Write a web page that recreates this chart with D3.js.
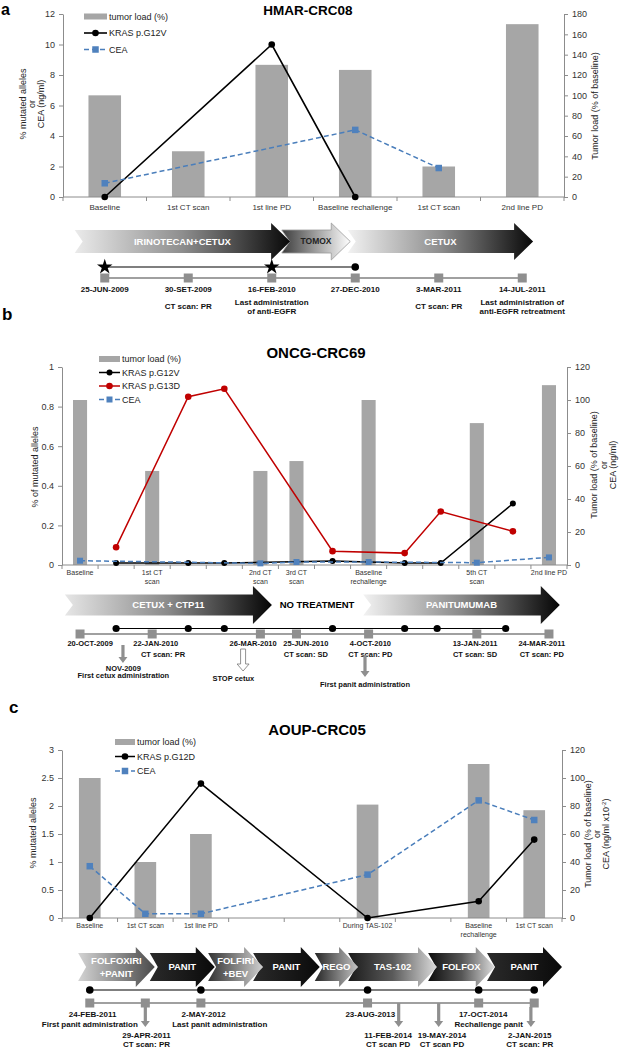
<!DOCTYPE html>
<html><head><meta charset="utf-8">
<script src="https://cdn.jsdelivr.net/npm/d3@7/dist/d3.min.js"></script>
<style>
html,body{margin:0;padding:0;background:#fff;}
svg{display:block;font-family:Arial,"Liberation Sans",Helvetica,sans-serif;}
</style></head><body>
<svg id="fig" width="620" height="1050"></svg>
<script>
// ================= DATA =================
// ---- Panel a ----
const aTitle = "HMAR-CRC08";
const aCategories = ["Baseline","1st CT scan","1st line PD","Baseline rechallenge","1st CT scan","2nd line PD"];
const aTumorLoad = [100, 45, 130, 125, 30, 170];
const aKrasG12V = [0, null, 10, 0, null, null];
const aCEA = [0.9, null, null, 4.4, 1.9, null];
const aLeftTicks = [0, 2, 4, 6, 8, 10, 12];
const aRightTicks = [0, 20, 40, 60, 80, 100, 120, 140, 160, 180];
const aTherapies = [
  {name:["IRINOTECAN+CETUX"], from:-0.36, to:2.22},
  {name:["TOMOX"], from:2.12, to:2.94},
  {name:["CETUX"], from:2.91, to:5.13}
];
const aEvents = [
  {at:0, date:"25-JUN-2009", note:[]},
  {at:1, date:"30-SET-2009", note:["CT scan: PR"]},
  {at:2, date:"16-FEB-2010", note:["Last administration","of anti-EGFR"]},
  {at:3, date:"27-DEC-2010", note:[]},
  {at:4, date:"3-MAR-2011", note:["CT scan: PR"]},
  {at:5, date:"14-JUL-2011", note:["Last administration of","anti-EGFR retreatment"]}
];
const aSamples = [{at:0, mark:"star"}, {at:2, mark:"star"}, {at:3, mark:"dot"}];

// ---- Panel b ----
const bTitle = "ONCG-CRC69";
const bCategories = ["Baseline","","1st CT\nscan","","","2nd CT\nscan","3rd CT\nscan","","Baseline\nrechallenge","","","5th CT\nscan","","2nd line PD"];
const bTumorLoad = [100, null, 57, null, null, 57, 63, null, 100, null, null, 86, null, 109];
const bKrasG12V = [null, 0.01, null, 0.01, 0.01, null, null, 0.02, null, 0.01, 0.01, null, 0.31, null];
const bKrasG13D = [null, 0.09, null, 0.85, 0.89, null, null, 0.07, null, 0.06, 0.27, null, 0.17, null];
const bCEA = [2.6, null, null, null, null, 1.0, 1.8, null, 1.8, null, null, 1.4, null, 4.6];
const bLeftTicks = [0, 0.2, 0.4, 0.6, 0.8, 1];
const bRightTicks = [0, 20, 40, 60, 80, 100, 120];
const bTherapies = [
  {name:["CETUX + CTP11"], from:-0.42, to:5.32},
  {name:["PANITUMUMAB"], from:7.85, to:13.3}
];
const bPause = {name:"NO TREATMENT", at:6.57};
const bEvents = [
  {at:0, labelAt:0.28, date:"20-OCT-2009", note:""},
  {at:2, labelAt:2.1, date:"22-JAN-2010", note:"CT scan: PR", noteAt:2.3},
  {at:5, labelAt:4.8, date:"26-MAR-2010", note:""},
  {at:6, labelAt:6.26, date:"25-JUN-2010", note:"CT scan: SD"},
  {at:8, labelAt:8.05, date:"4-OCT-2010", note:"CT scan: PD"},
  {at:11, labelAt:10.95, date:"13-JAN-2011", note:"CT scan: SD"},
  {at:13, labelAt:12.8, date:"24-MAR-2011", note:"CT scan: PD"}
];
const bSampleDots = [1, 3, 4, 7, 9, 9.9, 11.8];
const bCallouts = [
  {at:1.19, textAt:1.2, lines:["NOV-2009","First cetux administration"], hollow:false},
  {at:4.52, textAt:4.25, lines:["STOP cetux"], hollow:true},
  {at:7.9, textAt:7.9, lines:["First panit administration"], hollow:false}
];

// ---- Panel c ----
const cTitle = "AOUP-CRC05";
const cCategories = ["Baseline","1st CT scan","1st line PD","","","During TAS-102","","Baseline\nrechallenge","1st CT scan"];
const cTumorLoad = [100, 40, 60, null, null, 81, null, 110, 77];
const cKrasG12D = [0, null, 2.4, null, null, 0, null, 0.3, 1.4];
const cCEA = [37, 3, 3, null, null, 31, null, 84, 70];
const cLeftTicks = [0, 0.5, 1, 1.5, 2, 2.5, 3];
const cRightTicks = [0, 20, 40, 60, 80, 100, 120];
const cTherapies = [
  {name:["FOLFOXIRI","+PANIT"], from:-0.21, to:1.17},
  {name:["PANIT"], from:1.08, to:2.25},
  {name:["FOLFIRI","+BEV"], from:2.13, to:3.12},
  {name:["PANIT"], from:2.94, to:4.14},
  {name:["REGO"], from:4.05, to:4.83},
  {name:["TAS-102"], from:4.65, to:6.25},
  {name:["FOLFOX"], from:6.09, to:7.29},
  {name:["PANIT"], from:7.15, to:8.5}
];
const cSampleDots = [0, 2, 5, 7, 8];
const cScans = [0, 1, 2, 5, 7, 8];
const cDates = [
  {at:0.05, text:"24-FEB-2011"}, {at:2.05, text:"2-MAY-2012"},
  {at:5.05, text:"23-AUG-2013"}, {at:7.08, text:"17-OCT-2014"}
];
const cNotes = [
  {at:0.0, text:"First panit administration"}, {at:2.34, text:"Last panit administration"},
  {at:7.18, text:"Rechallenge panit"}
];
const cCallouts = [
  {at:1, textAt:1.02, fromScan:true, lines:["29-APR-2011","CT scan: PR"]},
  {at:5.56, textAt:5.37, fromScan:false, lines:["11-FEB-2014","CT scan PD"]},
  {at:6.28, textAt:6.34, fromScan:false, lines:["19-MAY-2014","CT scan PD"]},
  {at:7.94, textAt:7.92, fromScan:true, lines:["2-JAN-2015","CT scan: PR"]}
];

// ================= DRAWING =================
const svg = d3.select("#fig");
const defs = svg.append("defs");
const AXIS = "#8c8c8c", INK = "#222", BAR = "#a6a6a6", BLUE = "#4f81bd", BLUEL = "#4a7ebb", RED = "#c00000", TLGREY = "#8f8f8f";

let gid = 0;
function gradient(stops){
  const id = "g" + (gid++);
  const lg = defs.append("linearGradient").attr("id", id).attr("x1", 0).attr("x2", 1).attr("y1", 0).attr("y2", 0);
  stops.forEach(([o, c]) => lg.append("stop").attr("offset", o).attr("stop-color", c));
  return `url(#${id})`;
}

function txt(g, x, y, s, size, opts = {}){
  return g.append("text").attr("x", x).attr("y", y).attr("dy", "0.35em")
    .attr("text-anchor", opts.anchor || "middle").attr("font-size", size)
    .attr("font-weight", opts.weight || "normal").attr("fill", opts.fill || INK).text(s);
}
function vtxt(g, x, y, s, size){
  return g.append("text").attr("transform", `translate(${x},${y}) rotate(-90)`).attr("dy", "0.35em")
    .attr("text-anchor", "middle").attr("font-size", size).attr("fill", INK).text(s);
}

function chart(c){
  const n = c.cats.length;
  const x = d3.scaleBand().domain(d3.range(n)).range([c.left, c.right]);
  const cx = i => x(i) + x.bandwidth() / 2;
  const yl = d3.scaleLinear().domain([0, c.leftTicks[c.leftTicks.length - 1]]).range([c.bottom, c.top]);
  const yr = d3.scaleLinear().domain([0, c.rightTicks[c.rightTicks.length - 1]]).range([c.bottom, c.top]);
  const g = svg.append("g");
  const bw = x.bandwidth() * 0.39;
  g.append("g").selectAll("rect").data(c.bars.map((v, i) => ({v, i})).filter(d => d.v != null)).join("rect")
    .attr("x", d => cx(d.i) - bw / 2).attr("y", d => yr(d.v)).attr("width", bw)
    .attr("height", d => yr(0) - yr(d.v)).attr("fill", BAR);

  const la = g.append("g").attr("transform", `translate(${c.left},0)`)
    .call(d3.axisLeft(yl).tickValues(c.leftTicks).tickSize(4).tickSizeOuter(0).tickPadding(4).tickFormat(d3.format("~g")));
  const ra = g.append("g").attr("transform", `translate(${c.right},0)`)
    .call(d3.axisRight(yr).tickValues(c.rightTicks).tickSize(4).tickSizeOuter(0).tickPadding(4).tickFormat(d3.format("~g")));
  [la, ra].forEach(a => {
    a.attr("font-family", null);
    a.select(".domain").attr("stroke", AXIS);
    a.selectAll(".tick line").attr("stroke", AXIS);
    a.selectAll(".tick text").attr("font-size", c.tickSize).attr("fill", "#333");
  });
  g.append("line").attr("x1", c.left).attr("x2", c.right).attr("y1", c.bottom).attr("y2", c.bottom).attr("stroke", AXIS);
  g.append("g").selectAll("line").data(d3.range(n + 1)).join("line")
    .attr("x1", i => c.left + i * x.step()).attr("x2", i => c.left + i * x.step())
    .attr("y1", c.bottom).attr("y2", c.bottom + 4).attr("stroke", AXIS);
  c.cats.forEach((lab, i) => {
    if (!lab) return;
    const t = g.append("text").attr("text-anchor", "middle").attr("font-size", c.catSize).attr("fill", "#333");
    lab.split("\n").forEach((s, k) => t.append("tspan").attr("x", cx(i))
      .attr("y", c.labelY + k * c.catSize * 1.15).attr("dy", "0.35em").text(s));
  });

  c.series.forEach(s => {
    const y = s.axis === "right" ? yr : yl;
    const pts = s.values.map((v, i) => ({v, i})).filter(d => d.v != null);
    g.append("path").attr("d", d3.line().x(d => cx(d.i)).y(d => y(d.v))(pts))
      .attr("fill", "none").attr("stroke", s.color).attr("stroke-width", s.width)
      .attr("stroke-dasharray", s.dash || null);
    if (s.marker === "circle") {
      g.append("g").selectAll("circle").data(pts).join("circle")
        .attr("cx", d => cx(d.i)).attr("cy", d => y(d.v)).attr("r", s.size).attr("fill", s.color);
    } else {
      g.append("g").selectAll("rect").data(pts).join("rect")
        .attr("x", d => cx(d.i) - s.size / 2).attr("y", d => y(d.v) - s.size / 2)
        .attr("width", s.size).attr("height", s.size).attr("fill", BLUE);
    }
  });

  // legend
  const L = c.legend;
  L.items.forEach((it, k) => {
    const y = L.y + k * L.gap;
    if (it.bar) {
      g.append("rect").attr("x", L.x0).attr("y", y - 3).attr("width", L.x1 - L.x0).attr("height", 6).attr("fill", BAR);
    } else {
      g.append("line").attr("x1", L.x0).attr("x2", L.x1).attr("y1", y).attr("y2", y)
        .attr("stroke", it.s.color).attr("stroke-width", it.s.width).attr("stroke-dasharray", it.s.dash || null);
      const mx = (L.x0 + L.x1) / 2;
      if (it.s.marker === "circle") g.append("circle").attr("cx", mx).attr("cy", y).attr("r", it.s.size).attr("fill", it.s.color);
      else g.append("rect").attr("x", mx - it.s.size / 2).attr("y", y - it.s.size / 2).attr("width", it.s.size).attr("height", it.s.size).attr("fill", BLUE);
    }
    txt(g, L.x1 + 2, y, it.label, 9, {anchor: "start"});
  });

  // title and labels
  txt(g, c.titleX, c.titleY, c.title, c.titleSize, {weight: "bold", fill: "#000"});
  c.leftLabel.forEach((s, k) => vtxt(g, c.leftLabelX[k], c.leftLabelY, s, 9));
  const xi = d3.scaleLinear().domain([0, n - 1]).range([cx(0), cx(n - 1)]);
  return {g, xi, yr};
}

function chevron(g, x0, x1, ym, bodyH, headH, headL, notch, fill, stroke){
  const pts = [[x0, ym - bodyH / 2], [x1 - headL, ym - bodyH / 2], [x1 - headL, ym - headH / 2], [x1, ym],
    [x1 - headL, ym + headH / 2], [x1 - headL, ym + bodyH / 2], [x0, ym + bodyH / 2], [x0 + notch, ym]];
  g.append("path").attr("d", d3.line()(pts) + "Z").attr("fill", fill)
    .attr("stroke", stroke || "none").attr("stroke-width", stroke ? 0.8 : 0);
}

function therapies(g, xi, list, styles, geo){
  for (let k = list.length - 1; k >= 0; k--) {
    const t = list[k], st = styles[k];
    const x0 = xi(t.from), x1 = xi(t.to);
    chevron(g, x0, x1, geo.ym, geo.bodyH, geo.headH, geo.headL, geo.notch, gradient(st.stops), st.stroke);
    const mx = (x0 + x1) / 2 + (st.dx || 0);
    t.name.forEach((s, j) => txt(g, mx, geo.ym + (j - (t.name.length - 1) / 2) * geo.lh, s, st.size || geo.size,
      {weight: "bold", fill: st.text || "#fff"}));
  }
}

function squares(g, xs, y){
  g.append("g").selectAll("rect").data(xs).join("rect")
    .attr("x", d => d - 4.5).attr("y", y - 4.5).attr("width", 9).attr("height", 9).attr("fill", TLGREY);
}
function dots(g, xs, y, r){
  g.append("g").selectAll("circle").data(xs).join("circle").attr("cx", d => d).attr("cy", y).attr("r", r).attr("fill", "#000");
}
function downArrow(g, x, y0, y1, hollow){
  const sw = hollow ? 2.5 : 1.6, hw = hollow ? 6 : 4.5, hl = hollow ? 7 : 6;
  const pts = [[x - sw, y0], [x + sw, y0], [x + sw, y1 - hl], [x + hw, y1 - hl], [x, y1], [x - hw, y1 - hl], [x - sw, y1 - hl]];
  g.append("path").attr("d", d3.line()(pts) + "Z").attr("fill", hollow ? "#fff" : TLGREY)
    .attr("stroke", hollow ? "#777" : "none").attr("stroke-width", 0.8);
}

// ---------- Panel a ----------
svg.append("text").attr("x", 1).attr("y", 15).attr("font-size", 16).attr("font-weight", "bold").text("a");
const aK = {values: aKrasG12V, axis: "left", color: "#000", width: 1.6, marker: "circle", size: 3.3};
const aC = {values: aCEA, axis: "left", color: BLUEL, width: 1.5, dash: "5,3", marker: "square", size: 6.5};
const A = chart({
  cats: aCategories, bars: aTumorLoad, left: 63, right: 564, top: 14, bottom: 197,
  leftTicks: aLeftTicks, rightTicks: aRightTicks, tickSize: 9, catSize: 8, labelY: 207,
  series: [aK, aC],
  legend: {x0: 84, x1: 107, y: 16.5, gap: 16.5, items: [{bar: true, label: "tumor load (%)"}, {s: aK, label: "KRAS p.G12V"}, {s: aC, label: "CEA"}]},
  title: aTitle, titleX: 308, titleY: 10, titleSize: 13.5,
  leftLabel: ["% mutated alleles", "or", "CEA (ng/ml)"], leftLabelX: [23, 32, 41], leftLabelY: 104
});
vtxt(A.g, 595, 106, "Tumor load (% of baseline)", 9);
{
  const g = svg.append("g"), xi = A.xi;
  therapies(g, xi, aTherapies, [
    {stops: [[0, "#ebebeb"], [0.5, "#8e8e8e"], [1, "#080808"]]},
    {stops: [[0, "#3c3c3c"], [0.55, "#a8a8a8"], [1, "#ffffff"]], stroke: "#9a9a9a", text: "#222", size: 8.5},
    {stops: [[0, "#f2f2f2"], [0.5, "#8e8e8e"], [1, "#080808"]]}
  ], {ym: 241.5, bodyH: 23, headH: 37, headL: 19, notch: 8, size: 9.5, lh: 11});
  const sx = aSamples.map(d => xi(d.at));
  g.append("line").attr("x1", d3.min(sx)).attr("x2", d3.max(sx)).attr("y1", 267).attr("y2", 267).attr("stroke", "#000").attr("stroke-width", 1.2);
  g.append("line").attr("x1", xi(aEvents[0].at)).attr("x2", xi(aEvents[aEvents.length - 1].at)).attr("y1", 278).attr("y2", 278).attr("stroke", "#a0a0a0").attr("stroke-width", 2);
  squares(g, aEvents.map(d => xi(d.at)), 278);
  aSamples.forEach(d => {
    if (d.mark === "star") g.append("path").attr("d", d3.symbol(d3.symbolStar, 75)()).attr("transform", `translate(${xi(d.at)},267)`).attr("fill", "#000");
    else g.append("circle").attr("cx", xi(d.at)).attr("cy", 267).attr("r", 3.8).attr("fill", "#000");
  });
  aEvents.forEach(e => {
    txt(g, xi(e.at), 289, e.date, 8, {weight: "bold", fill: "#111"});
    e.note.forEach((s, j) => txt(g, xi(e.at), 306.5 + (j - (e.note.length - 1) / 2) * 9, s, 8, {weight: "bold", fill: "#111"}));
  });
}

// ---------- Panel b ----------
svg.append("text").attr("x", 2).attr("y", 320).attr("font-size", 17).attr("font-weight", "bold").text("b");
const bK1 = {values: bKrasG12V, axis: "left", color: "#000", width: 1.5, marker: "circle", size: 3};
const bK2 = {values: bKrasG13D, axis: "left", color: RED, width: 1.5, marker: "circle", size: 3.3};
const bC = {values: bCEA, axis: "right", color: BLUEL, width: 1.5, dash: "5,3", marker: "square", size: 6};
const B = chart({
  cats: bCategories, bars: bTumorLoad, left: 62, right: 567, top: 367, bottom: 565,
  leftTicks: bLeftTicks, rightTicks: bRightTicks, tickSize: 9, catSize: 7, labelY: 573,
  series: [bK1, bK2, bC],
  legend: {x0: 99, x1: 120, y: 359, gap: 13.5, items: [{bar: true, label: "tumor load (%)"}, {s: bK1, label: "KRAS p.G12V"}, {s: bK2, label: "KRAS p.G13D"}, {s: bC, label: "CEA"}]},
  title: bTitle, titleX: 316, titleY: 353, titleSize: 15,
  leftLabel: ["% of mutated alleles"], leftLabelX: [35], leftLabelY: 467
});
vtxt(B.g, 594, 465, "Tumor load (% of baseline)", 9);
vtxt(B.g, 604, 465, "or", 9);
vtxt(B.g, 613, 465, "CEA (ng/ml)", 9);
{
  const g = svg.append("g"), xi = B.xi;
  therapies(g, xi, bTherapies, [
    {stops: [[0, "#e6e6e6"], [0.5, "#8a8a8a"], [1, "#050505"]]},
    {stops: [[0, "#f2f2f2"], [0.5, "#8a8a8a"], [1, "#050505"]]}
  ], {ym: 605, bodyH: 21, headH: 38, headL: 19, notch: 8, size: 9.5, lh: 11});
  txt(g, xi(bPause.at), 605, bPause.name, 9.5, {weight: "bold", fill: "#000"});
  const dx = bSampleDots.map(d => xi(d));
  g.append("line").attr("x1", d3.min(dx)).attr("x2", d3.max(dx)).attr("y1", 628.5).attr("y2", 628.5).attr("stroke", "#000").attr("stroke-width", 1.2);
  g.append("line").attr("x1", xi(bEvents[0].at)).attr("x2", xi(bEvents[bEvents.length - 1].at)).attr("y1", 634).attr("y2", 634).attr("stroke", "#a0a0a0").attr("stroke-width", 2);
  squares(g, bEvents.map(d => xi(d.at)), 634);
  dots(g, dx, 628.5, 3.6);
  bEvents.forEach(e => {
    txt(g, xi(e.labelAt), 643.5, e.date, 7.5, {weight: "bold", fill: "#111"});
    if (e.note) txt(g, xi(e.noteAt != null ? e.noteAt : e.labelAt), 654, e.note, 7.5, {weight: "bold", fill: "#111"});
  });
  const lay = [[645, 663, 668], [649, 671, 678], [655, 677, 684]];
  bCallouts.forEach((c, k) => {
    downArrow(g, xi(c.at), lay[k][0], lay[k][1], c.hollow);
    c.lines.forEach((s, j) => txt(g, xi(c.textAt), lay[k][2] + j * 7.5, s, 7.5, {weight: "bold", fill: "#111"}));
  });
}

// ---------- Panel c ----------
svg.append("text").attr("x", 9).attr("y", 713).attr("font-size", 17).attr("font-weight", "bold").text("c");
const cK = {values: cKrasG12D, axis: "left", color: "#000", width: 1.5, marker: "circle", size: 3.3};
const cC = {values: cCEA, axis: "right", color: BLUEL, width: 1.5, dash: "5,3", marker: "square", size: 6.5};
const C = chart({
  cats: cCategories, bars: cTumorLoad, left: 62, right: 562, top: 750, bottom: 918,
  leftTicks: cLeftTicks, rightTicks: cRightTicks, tickSize: 9, catSize: 7, labelY: 926,
  series: [cK, cC],
  legend: {x0: 115, x1: 135, y: 742, gap: 14.5, items: [{bar: true, label: "tumor load (%)"}, {s: cK, label: "KRAS p.G12D"}, {s: cC, label: "CEA"}]},
  title: cTitle, titleX: 317, titleY: 730, titleSize: 15,
  leftLabel: ["% mutated alleles"], leftLabelX: [33], leftLabelY: 833
});
vtxt(C.g, 588, 834, "Tumor load (% of baseline)", 9);
vtxt(C.g, 597, 834, "or", 9);
{
  const t = C.g.append("text").attr("transform", "translate(606,834) rotate(-90)").attr("dy", "0.35em")
    .attr("text-anchor", "middle").attr("font-size", 9).attr("fill", INK);
  t.append("tspan").text("CEA (ng/ml x10");
  t.append("tspan").attr("font-size", 6).attr("baseline-shift", "super").text("-2");
  t.append("tspan").text(")");
}
{
  const g = svg.append("g"), xi = C.xi;
  const dark = [[0, "#2a2a2a"], [1, "#0a0a0a"]];
  therapies(g, xi, cTherapies, [
    {stops: [[0, "#d4d4d4"], [1, "#4a4a4a"]]},
    {stops: dark},
    {stops: [[0, "#333"], [1, "#d0d0d0"]]},
    {stops: dark},
    {stops: [[0, "#262626"], [1, "#c4c4c4"]]},
    {stops: [[0, "#1a1a1a"], [0.5, "#5a5a5a"], [1, "#dcdcdc"]]},
    {stops: [[0, "#0d0d0d"], [0.5, "#555"], [1, "#dcdcdc"]]},
    {stops: dark}
  ], {ym: 967, bodyH: 28, headH: 40, headL: 19, notch: 8, size: 9.5, lh: 12.5});
  const dx = cSampleDots.map(d => xi(d));
  g.append("line").attr("x1", d3.min(dx)).attr("x2", d3.max(dx)).attr("y1", 990).attr("y2", 990).attr("stroke", "#000").attr("stroke-width", 1.2);
  const sx = cScans.map(d => xi(d));
  g.append("line").attr("x1", d3.min(sx)).attr("x2", d3.max(sx)).attr("y1", 1003).attr("y2", 1003).attr("stroke", "#a0a0a0").attr("stroke-width", 2);
  cCallouts.forEach(c => downArrow(g, xi(c.at), c.fromScan ? 1007 : 1003, 1027, false));
  squares(g, sx, 1003);
  dots(g, dx, 990, 3.8);
  cDates.forEach(d => txt(g, xi(d.at), 1014, d.text, 8, {weight: "bold", fill: "#111"}));
  cNotes.forEach(d => txt(g, xi(d.at), 1024, d.text, 8, {weight: "bold", fill: "#111"}));
  cCallouts.forEach(c => c.lines.forEach((s, j) => txt(g, xi(c.textAt), 1035 + j * 9, s, 8, {weight: "bold", fill: "#111"})));
}
</script>
</body></html>
